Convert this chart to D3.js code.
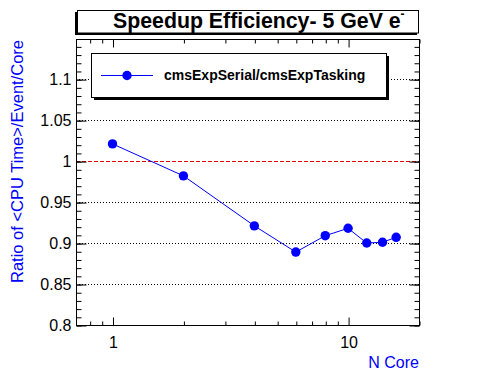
<!DOCTYPE html>
<html>
<head>
<meta charset="utf-8">
<script src="https://cdn.jsdelivr.net/npm/d3@7"></script>
<style>
  body { margin: 0; background: #fff; }
  text { font-family: "Liberation Sans", Arial, Helvetica, sans-serif; }
</style>
</head>
<body>
<script>
"use strict";
(function(){
    // values
    const nCore = [1, 2, 4, 6, 8, 10, 12, 14, 16];
    const ratio = [1.021, 0.982, 0.921, 0.889, 0.909, 0.918, 0.900, 0.901, 0.907];
    const yMajorTicks = [0.8, 0.85, 0.9, 0.95, 1, 1.05, 1.1];
    const xMajorTicks = [1, 10];
    const xMinorTicks = [0.8, 0.9, 2, 3, 4, 5, 6, 7, 8, 9, 20];
    const seriesName = "cmsExpSerial/cmsExpTasking";

    const frame = { left: 76, right: 419, top: 39, bottom: 325 };

    const svg = d3.select("body").append("svg")
        .attr("width", 496)
        .attr("height", 372);

    const x = d3.scaleLog()
        .domain([0.7, 20])
        .range([frame.left, frame.right]);
    const y = d3.scaleLinear()
        .domain([0.8, 1.149])
        .range([frame.bottom, frame.top]);

    // y minor ticks every 0.01
    const yMinor = d3.range(80, 115).map(d => d / 100);

    // horizontal dotted grid
    svg.append("g")
        .selectAll("line")
        .data(yMajorTicks.filter(d => d !== 0.8))
        .enter()
        .append("line")
        .attr("x1", frame.left)
        .attr("x2", frame.right)
        .attr("y1", d => Math.round(y(d)) + 0.5)
        .attr("y2", d => Math.round(y(d)) + 0.5)
        .attr("stroke", "#000")
        .attr("stroke-dasharray", "1,2");

    // reference line at 1
    svg.append("line")
        .attr("x1", frame.left)
        .attr("x2", frame.right)
        .attr("y1", Math.round(y(1)) + 0.5)
        .attr("y2", Math.round(y(1)) + 0.5)
        .attr("stroke", "#e00000")
        .attr("stroke-dasharray", "4,2");

    // frame
    svg.append("rect")
        .attr("x", frame.left + 0.5)
        .attr("y", frame.top + 0.5)
        .attr("width", frame.right - frame.left)
        .attr("height", frame.bottom - frame.top)
        .attr("fill", "none")
        .attr("stroke", "#000");

    function styleAxis(g) {
        g.select(".domain").remove();
        g.selectAll("line").attr("stroke", "#000");
        g.selectAll("text")
            .style("font-size", "16px")
            .attr("fill", "#000");
    }

    // left axis
    svg.append("g")
        .attr("transform", `translate(${frame.left + 0.5},0.5)`)
        .call(d3.axisLeft(y).tickValues(yMinor).tickSize(-5).tickFormat(""))
        .call(styleAxis);
    svg.append("g")
        .attr("transform", `translate(${frame.left + 0.5},0.5)`)
        .call(d3.axisLeft(y).tickValues(yMajorTicks).tickSize(-10).tickPadding(5)
            .tickFormat(d => d3.format("")(+d.toFixed(2))))
        .call(styleAxis);
    // right axis
    svg.append("g")
        .attr("transform", `translate(${frame.right + 0.5},0.5)`)
        .call(d3.axisRight(y).tickValues(yMinor).tickSize(-5).tickFormat(""))
        .call(styleAxis);
    svg.append("g")
        .attr("transform", `translate(${frame.right + 0.5},0.5)`)
        .call(d3.axisRight(y).tickValues(yMajorTicks).tickSize(-10).tickFormat(""))
        .call(styleAxis);

    // bottom axis
    svg.append("g")
        .attr("transform", `translate(0.5,${frame.bottom + 0.5})`)
        .call(d3.axisBottom(x).tickValues(xMinorTicks).tickSize(-4).tickFormat(""))
        .call(styleAxis);
    svg.append("g")
        .attr("transform", `translate(0.5,${frame.bottom + 0.5})`)
        .call(d3.axisBottom(x).tickValues(xMajorTicks).tickSize(-8).tickPadding(11)
            .tickFormat(d3.format("d")))
        .call(styleAxis);
    // top axis
    svg.append("g")
        .attr("transform", `translate(0.5,${frame.top + 0.5})`)
        .call(d3.axisTop(x).tickValues(xMinorTicks).tickSize(-4).tickFormat(""))
        .call(styleAxis);
    svg.append("g")
        .attr("transform", `translate(0.5,${frame.top + 0.5})`)
        .call(d3.axisTop(x).tickValues(xMajorTicks).tickSize(-8).tickFormat(""))
        .call(styleAxis);

    // axis titles
    svg.append("text")
        .attr("x", frame.right)
        .attr("y", 368)
        .attr("text-anchor", "end")
        .attr("fill", "#0000ff")
        .style("font-size", "16px")
        .text("N Core");

    svg.append("text")
        .attr("transform", `translate(23,${frame.top + 1})rotate(-90)`)
        .attr("text-anchor", "end")
        .attr("fill", "#0000ff")
        .style("font-size", "16.5px")
        .text("Ratio of <CPU Time>/Event/Core");

    // series
    const points = nCore.map((d, i) => ({ n: d, r: ratio[i] }));
    const line = d3.line()
        .x(d => x(d.n))
        .y(d => y(d.r));
    svg.append("path")
        .datum(points)
        .attr("d", line)
        .attr("fill", "none")
        .attr("stroke", "#0000ff")
        .attr("stroke-width", 1);
    svg.append("g")
        .selectAll("circle")
        .data(points)
        .enter()
        .append("circle")
        .attr("cx", d => x(d.n))
        .attr("cy", d => y(d.r))
        .attr("r", 4.7)
        .attr("fill", "#0000ff");

    // legend
    const leg = { x: 91, y: 53, w: 295, h: 44 };
    svg.append("rect")
        .attr("x", leg.x + 3)
        .attr("y", leg.y + 3)
        .attr("width", leg.w)
        .attr("height", leg.h)
        .attr("fill", "#000");
    svg.append("rect")
        .attr("x", leg.x + 0.5)
        .attr("y", leg.y + 0.5)
        .attr("width", leg.w)
        .attr("height", leg.h)
        .attr("fill", "#fff")
        .attr("stroke", "#000");
    svg.append("line")
        .attr("x1", 101).attr("x2", 153)
        .attr("y1", 75.5).attr("y2", 75.5)
        .attr("stroke", "#0000ff");
    svg.append("circle")
        .attr("cx", 127).attr("cy", 75.5).attr("r", 4.7)
        .attr("fill", "#0000ff");
    svg.append("text")
        .attr("x", 164)
        .attr("y", 79.5)
        .style("font-size", "14px")
        .style("font-weight", "bold")
        .text(seriesName);

    // title box
    svg.append("rect")
        .attr("x", 75).attr("y", 12)
        .attr("width", 342).attr("height", 23)
        .attr("fill", "#000");
    svg.append("rect")
        .attr("x", 77.5).attr("y", 10.5)
        .attr("width", 341).attr("height", 22.5)
        .attr("fill", "#fff")
        .attr("stroke", "#000");
    const title = svg.append("text")
        .attr("x", 113)
        .attr("y", 28)
        .style("font-size", "21.3px")
        .style("font-weight", "bold");
    title.append("tspan").text("Speedup Efficiency- 5 GeV e");
    title.append("tspan")
        .attr("dy", -10)
        .style("font-size", "12px")
        .text("-");
})()
</script>
</body>
</html>
